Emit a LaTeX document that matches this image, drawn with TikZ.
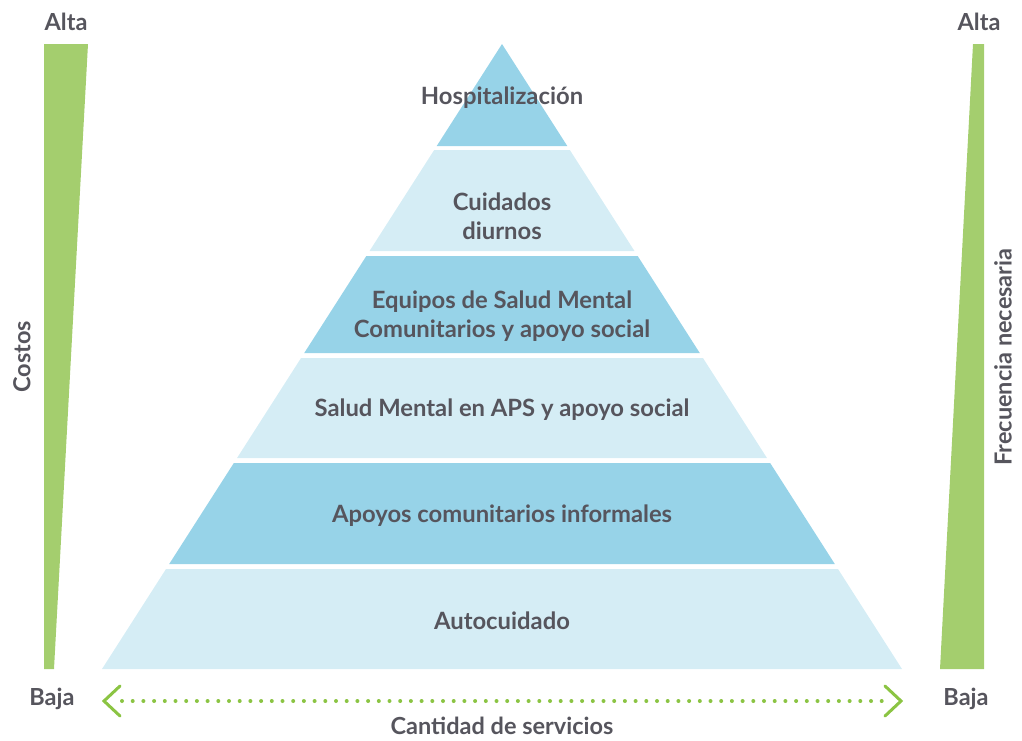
\documentclass[tikz,border=0pt]{standalone}
\usepackage{fontspec}
\setmainfont{Lato}
\usetikzlibrary{calc}
\definecolor{darkband}{HTML}{97D3E8}
\definecolor{lightband}{HTML}{D5EDF5}
\definecolor{barg}{HTML}{A4CE6E}
\definecolor{arrg}{HTML}{8BC443}
\definecolor{txt}{HTML}{56555D}
\tikzset{
  lbl/.style={font=\fontsize{23.8}{29}\selectfont\bfseries, text=txt, align=center, inner sep=0pt},
  axis/.style={font=\fontsize{23.5}{26}\selectfont\bfseries, text=txt, inner sep=0pt},
  chev/.style={draw=arrg, line width=3pt, line cap=round, line join=miter},
}
\newcommand{\band}[3]{%
  \fill[#3] ({502-0.64*(#1-44)},#1) -- ({502+0.64*(#1-44)},#1) -- ({502+0.64*(#2-44)},#2) -- ({502-0.64*(#2-44)},#2) -- cycle;}
\begin{document}
\begin{tikzpicture}[x=1pt,y=-1pt]
\useasboundingbox (0,0) rectangle (1022,740);
% pyramid bands
\band{44}{146}{darkband}
\band{150}{251}{lightband}
\band{256}{353}{darkband}
\band{358}{458}{lightband}
\band{463}{564}{darkband}
\band{569}{669}{lightband}
% band labels
\node[lbl] (hosp) at (502,97.5) {Hospitalización};
\node[lbl] (cuid) at (502,216.5) {Cuidados\\diurnos};
\node[lbl] (equi) at (502,316.5) {Equipos de Salud Mental\\Comunitarios y apoyo social};
\node[lbl] (aps) at (502,409.5) {Salud Mental en APS y apoyo social};
\node[lbl] (apoy) at (502,515.5) {Apoyos comunitarios informales};
\node[lbl] (auto) at (502,620.5) {Autocuidado};
% side bars
\fill[barg] (44,44) -- (88,44) -- (54,669) -- (44,669) -- cycle;
\fill[barg] (973,44) -- (984,44) -- (984,669) -- (940,669) -- cycle;
\node[axis] (altaL) at (66,22) {Alta};
\node[axis] (altaR) at (979,22) {Alta};
\node[axis] (bajaL) at (52,699) {Baja};
\node[axis] (bajaR) at (966,699) {Baja};
\node[axis, rotate=90] (costos) at (22,357) {Costos};
\node[axis, rotate=90] (frec) at (1003,357) {Frecuencia necesaria};
\node[axis] (cant) at (502,726) {Cantidad de servicios};
% arrow
\coordinate (aL) at (104,701);
\coordinate (aR) at (901,701);
\draw[arrg, line width=4pt, line cap=round, dash pattern=on 0pt off 10.7pt] ($(aL)+(18,0)$) -- ($(aR)+(-16,0)$);
\draw[chev] ($(aL)+(16,-15)$) -- (aL) -- ($(aL)+(16,15)$);
\draw[chev] ($(aR)+(-16,-15)$) -- (aR) -- ($(aR)+(-16,15)$);
\end{tikzpicture}
\end{document}
